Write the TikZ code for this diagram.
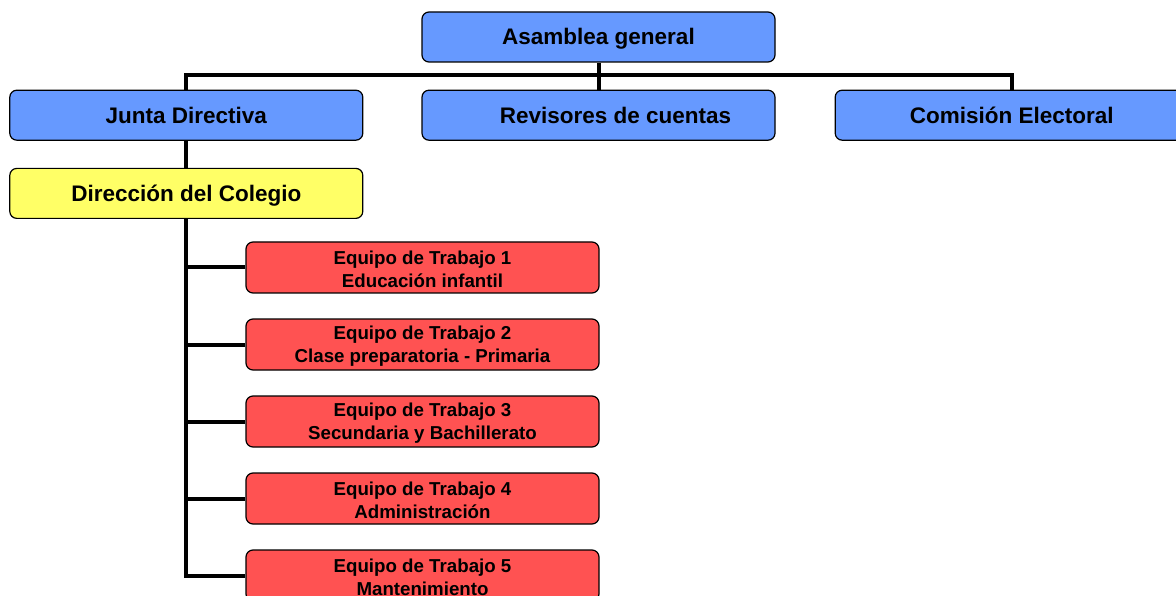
\documentclass[tikz,border=0pt]{standalone}
\usepackage{fontspec}
\setmainfont{Liberation Sans}
\usetikzlibrary{positioning}
\definecolor{orgblue}{HTML}{6699FF}
\definecolor{orgyellow}{HTML}{FFFF66}
\definecolor{orgred}{HTML}{FF5252}
\begin{document}
\begin{tikzpicture}[x=1pt,y=-1pt,
	box/.style={draw, rounded corners=7pt, line width=1.2pt, minimum width=353pt, minimum height=50pt, inner sep=0pt, align=center},
	bluebox/.style={box, fill=orgblue, text height=16pt, text depth=0pt, font=\fontsize{22.5}{27}\selectfont\bfseries},
	yellowbox/.style={bluebox, fill=orgyellow},
	teambox/.style={box, fill=orgred, minimum height=51pt, font=\fontsize{18.7}{23}\selectfont\bfseries},
	link/.style={line width=4pt}]

	\useasboundingbox (0,0) rectangle (1176,596);

	\node[bluebox] (asamblea) at (598.5,37) {Asamblea general};
	\node[bluebox] (revisores) [below=27pt of asamblea] {\hspace*{34pt}Revisores de cuentas};
	\node[bluebox] (junta) [left=58pt of revisores] {Junta Directiva};
	\node[bluebox] (comision) [right=59pt of revisores] {Comisión Electoral};
	\node[yellowbox] (direccion) [below=27pt of junta] {Dirección del Colegio};

	\foreach \i/\txt in {1/Educación infantil, 2/Clase preparatoria - Primaria, 3/Secundaria y Bachillerato, 4/Administración, 5/Mantenimiento}
		\node[teambox] (equipo\i) at (422.5,{267.5+77*(\i-1)}) {\rule{0pt}{17.6pt}Equipo de Trabajo \i\\\txt};

	\coordinate (bus) at (598.5,75);
	\draw[link] (asamblea.south) -- (revisores.north);
	\draw[link] (junta.north) -- (junta.north |- bus) -- (comision.north |- bus) -- (comision.north);
	\draw[link] (junta.south) -- (direccion.south |- direccion.north);
	\draw[link] (direccion.south) -- (direccion.south |- equipo5.west) -- (equipo5.west);
	\foreach \i in {1,...,4}
		\draw[link] (equipo\i.west) -- (equipo\i.west -| direccion.south);
\end{tikzpicture}
\end{document}
